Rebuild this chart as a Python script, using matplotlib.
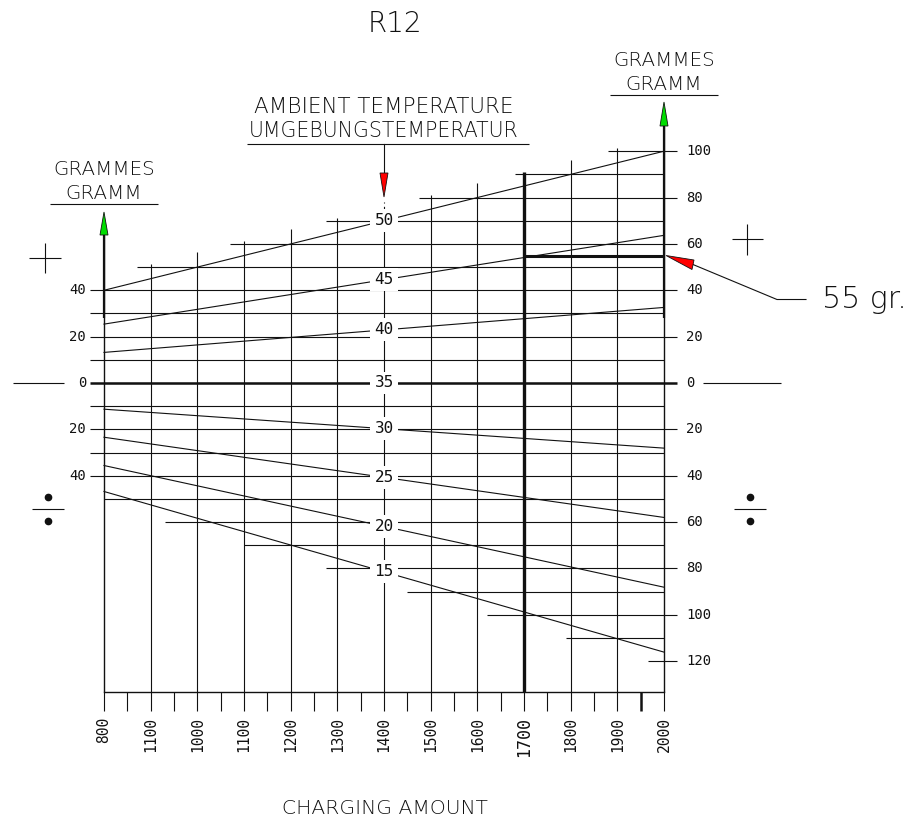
import matplotlib
matplotlib.use('Agg')
import matplotlib.pyplot as plt
from matplotlib.patches import Polygon

# ---------------- data ----------------
charge_ticks = [800, 900, 1000, 1100, 1200, 1300, 1400, 1500, 1600, 1700, 1800, 1900, 2000]
charge_labels = ['800', '1100', '1000', '1100', '1200', '1300', '1400', '1500',
                 '1600', '1700', '1800', '1900', '2000']
minor_ticks = [850, 950, 1050, 1150, 1250, 1350, 1450, 1550, 1650, 1750, 1850, 1950]
# top (grams) of each vertical grid line (None = drawn specially)
grid_tops = [None, 51.2, 56.4, 61.1, 66.3, 71.0, None, 81.0, 86.1, 91.0, 96.0, 101.2, None]

temps = [50, 45, 40, 35, 30, 25, 20, 15]
temp_g800 = [40.0, 25.4, 13.2, 0.0, -11.3, -23.4, -35.6, -46.8]
temp_g2000 = [100.0, 63.7, 32.6, 0.0, -28.1, -58.0, -88.1, -116.1]

levels = [100, 90, 80, 70, 60, 50, 40, 30, 20, 10, 0, -10, -20, -30, -40,
          -50, -60, -70, -80, -90, -100, -110, -120]
level_start = [1880, 1680, 1475, 1275, 1070, 870, 770, 770, 770, 770, 770, 770, 770,
               770, 770, 800, 930, 1100, 1275, 1450, 1620, 1790, 1965]
left_label_levels = [40, 20, 0, -20, -40]
right_label_levels = [100, 80, 60, 40, 20, 0, -20, -40, -60, -80, -100, -120]

result_charge = 1700
result_grams = 55

# ---------------- layout ----------------
W, H = 919, 823
X0PX, XSC = 104.0, 560.0 / 1200.0     # px of 800, px per unit
Y0PX, YSC = 383.0, 2.318               # px of 0 g, px per gram


def P(px, py):
    """pixel (from top-left) -> data coordinates"""
    return 800 + (px - X0PX) / XSC, (Y0PX - py) / YSC


fig = plt.figure(figsize=(W / 100, H / 100), dpi=100)
ax = fig.add_axes([0, 0, 1, 1])
xl0, yt = P(0, 0)
xl1, yb_ = P(W, H)
ax.set_xlim(xl0, xl1)
ax.set_ylim(yb_, yt)
ax.axis('off')

MONO = 'DejaVu Sans Mono'
LW = 0.8
K = '#111'

base_g = P(0, 692)[1]
tick_g = P(0, 711)[1]
tick_out = P(677, 0)[0]

# horizontal grid lines
for lv, st in zip(levels, level_start):
    end = tick_out if lv in right_label_levels else 2000
    lw = 1.8 if lv == 0 else LW
    ax.plot([st, end], [lv, lv], color=K, lw=lw, solid_capstyle='butt', zorder=2)

# vertical grid lines
for c, top in zip(charge_ticks, grid_tops):
    if top is None:
        continue
    lw = 2.4 if c == result_charge else LW
    ax.plot([c, c], [base_g, top], color=K, lw=lw, solid_capstyle='butt', zorder=2)

# gram axes with green arrows
l_base, l_tip = P(0, 235)[1], P(0, 212)[1]
r_base, r_tip = P(0, 126)[1], P(0, 102)[1]
thick_to = 28
for c, b, t in [(800, l_base, l_tip), (2000, r_base, r_tip)]:
    ax.plot([c, c], [base_g, b], color=K, lw=LW + 0.2, solid_capstyle='butt', zorder=2)
    ax.plot([c, c], [thick_to, b], color=K, lw=1.6, solid_capstyle='butt', zorder=2)
    hw = 4 / XSC
    ax.add_patch(Polygon([[c - hw, b], [c + hw, b], [c, t]], closed=True,
                         facecolor='#00dd00', edgecolor=K, lw=0.6, zorder=4))

# 1400 temperature column
mid = 1400
ax.plot([mid, mid], [base_g, 69], color=K, lw=LW, zorder=2)
arr_tip, arr_base = P(0, 197)[1], P(0, 173)[1]
ax.plot([mid, mid], [69, arr_tip - 2], color=K, lw=LW, ls=(0, (3, 3)), zorder=2)
ax.plot([mid, mid], [arr_base, P(0, 144)[1]], color=K, lw=LW, zorder=2)
hw = 4 / XSC
ax.add_patch(Polygon([[mid - hw, arr_base], [mid + hw, arr_base], [mid, arr_tip]],
                     closed=True, facecolor='#ff0000', edgecolor=K, lw=0.6, zorder=4))

# temperature lines and labels
for t, g0, g1 in zip(temps, temp_g800, temp_g2000):
    ax.plot([800, 2000], [g0, g1], color=K, lw=LW, zorder=3)
    gm = g0 + (g1 - g0) * (mid - 800) / 1200
    ax.text(mid, gm, str(t), family=MONO, fontsize=11.5, ha='center', va='center',
            color=K, zorder=6,
            bbox=dict(boxstyle='square,pad=0.25', facecolor='white', edgecolor='none'))

# x axis baseline and ticks
ax.plot([800, 2000], [base_g, base_g], color=K, lw=LW + 0.2, zorder=2)
for c in charge_ticks + minor_ticks:
    lw = 1.8 if c == 1950 else LW
    ax.plot([c, c], [base_g, tick_g], color=K, lw=lw, solid_capstyle='butt', zorder=2)
lab_g = P(0, 717)[1]
for c, lab in zip(charge_ticks, charge_labels):
    fs = 12 if lab == '1700' else 10.5
    ax.text(c, lab_g, lab, family=MONO, fontsize=fs, rotation=90, ha='center',
            va='top', color=K)

# gram labels
lx = P(86, 0)[0]
for lv in left_label_levels:
    ax.text(lx, lv, str(abs(lv)), family=MONO, fontsize=10, ha='right', va='center', color=K)
rx = P(686, 0)[0]
for lv in right_label_levels:
    ax.text(rx, lv, str(abs(lv)), family=MONO, fontsize=10, ha='left', va='center', color=K)

# result (55 gr.)
ax.plot([result_charge, 2000], [result_grams, result_grams], color=K, lw=2.2,
        solid_capstyle='butt', zorder=5)
tipx = 2000 + 2 / XSC
tri = [[tipx, result_grams],
       [tipx + 28 / XSC, result_grams - 4.5 / YSC],
       [tipx + 26 / XSC, result_grams - 14 / YSC]]
ax.add_patch(Polygon(tri, closed=True, facecolor='#ff0000', edgecolor=K, lw=0.6, zorder=6))
p1 = (tipx + 27 / XSC, result_grams - 9 / YSC)
p2 = P(777, 0)[0], result_grams - 44 / YSC
p3 = P(806, 0)[0], result_grams - 44 / YSC
ax.plot([p1[0], p2[0], p3[0]], [p1[1], p2[1], p3[1]], color=K, lw=LW, zorder=5)
ax.text(P(822, 0)[0], result_grams - 44 / YSC, f'{result_grams} gr.', family='DejaVu Sans',
        fontweight='light', fontsize=21.5, ha='left', va='center', color=K)

# decorations: + and ÷ signs, outer zero lines
def seg(x0, y0, x1, y1, lw=LW):
    a, b = P(x0, y0), P(x1, y1)
    ax.plot([a[0], b[0]], [a[1], b[1]], color=K, lw=lw, solid_capstyle='butt')

seg(13, 383, 64, 383)
seg(703, 383, 781, 383)
seg(29, 258, 61, 258); seg(45, 243, 45, 273)
seg(732, 239, 763, 239); seg(747, 224, 747, 255)
for cx in (48, 750):
    seg(cx - 16, 509, cx + 16, 509)
    for dy in (497, 521):
        d = P(cx, dy)
        ax.plot(d[0], d[1], 'o', color=K, ms=4.5)

# headings
def head(px, py, s, fs=15.5):
    x, y = P(px, py)
    ax.text(x, y, s, ha='center', va='center', fontsize=fs, family='DejaVu Sans',
            fontweight='light', color=K)

head(395, 24, 'R12', fs=20)
head(384, 107, 'AMBIENT TEMPERATURE', fs=15.5)
head(384, 131, 'UMGEBUNGSTEMPERATUR', fs=14.8)
seg(247, 144, 529, 144)
head(104, 170, 'GRAMMES', fs=14.3)
head(104, 194, 'GRAMM', fs=14.3)
seg(50, 204, 158, 204)
head(664, 61, 'GRAMMES', fs=14.3)
head(664, 85, 'GRAMM', fs=14.3)
seg(610, 95, 718, 95)
head(385, 808, 'CHARGING AMOUNT', fs=14.6)

fig.savefig('out.png', dpi=100)
